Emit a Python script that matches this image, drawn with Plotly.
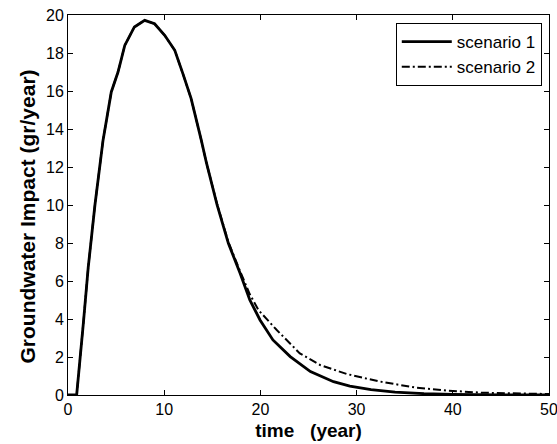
import plotly.graph_objects as go

# Scenario 1 (solid)
t1 = [0, 0.9, 1.6, 2.1, 2.8, 3.64, 4.5, 5.2, 5.9, 6.9, 7.97, 9.0, 10.05, 11.1, 11.95,
      12.8, 13.86, 14.4, 15.5, 16.67, 17.9, 18.9, 19.96, 21.3, 23.1, 25.2, 27.6, 29.3,
      31.5, 34.0, 37.0, 40.0, 45.0, 50.0]
g1 = [0, 0, 3.8, 6.7, 10.0, 13.4, 15.95, 17.0, 18.4, 19.37, 19.72, 19.54, 18.93, 18.14, 16.9,
      15.6, 13.4, 12.2, 10.0, 7.98, 6.4, 5.0, 3.95, 2.9, 2.02, 1.23, 0.7, 0.47,
      0.28, 0.15, 0.07, 0.03, 0.01, 0.0]

# Scenario 2 (dash-dot)
t2 = [0, 0.9, 1.6, 2.1, 2.8, 3.64, 4.5, 5.2, 5.9, 6.9, 7.97, 9.0, 10.05, 11.1, 11.95,
      12.8, 13.86, 14.4, 15.5, 16.67, 17.9, 18.9, 19.8, 21.7, 24.1, 26.2, 29.0, 32.3,
      36.0, 39.5, 43.0, 48.0, 50.0]
g2 = [0, 0, 3.8, 6.7, 10.0, 13.4, 15.95, 17.0, 18.4, 19.37, 19.72, 19.54, 18.93, 18.14, 16.9,
      15.6, 13.4, 12.2, 10.05, 8.05, 6.5, 5.3, 4.47, 3.42, 2.19, 1.58, 1.1, 0.72,
      0.4, 0.23, 0.12, 0.06, 0.05]

x_ticks = [0, 10, 20, 30, 40, 50]
y_ticks = [0, 2, 4, 6, 8, 10, 12, 14, 16, 18, 20]

FONT = "Liberation Sans, Arial, sans-serif"

fig = go.Figure()
fig.add_trace(go.Scatter(x=t2, y=g2, mode="lines", name="scenario 2",
                         line=dict(color="black", width=2, dash="8px,3px,2px,3px")))
fig.add_trace(go.Scatter(x=t1, y=g1, mode="lines", name="scenario 1",
                         line=dict(color="black", width=2.8)))

axis_common = dict(showline=True, linecolor="black", linewidth=1, mirror="allticks",
                   ticks="inside", ticklen=5, tickcolor="black", showgrid=False,
                   zeroline=False, ticklabeloverflow="allow", automargin=False,
                   tickfont=dict(family=FONT, size=16, color="black"))

fig.update_xaxes(range=[0, 50], tickvals=x_ticks, ticktext=[str(v) for v in x_ticks],
                 title=dict(text="time   (year)", standoff=6,
                            font=dict(family=FONT, size=19, color="black", weight="bold")),
                 **axis_common)
fig.update_yaxes(range=[0, 20], tickvals=y_ticks, ticktext=[str(v) for v in y_ticks],
                 **axis_common)

# y-axis title placed as a rotated paper-anchored label
fig.add_annotation(text="Groundwater Impact (gr/year)", xref="paper", yref="paper",
                   x=-0.085, y=0.47, xanchor="center", yanchor="middle",
                   textangle=-90, showarrow=False,
                   font=dict(family=FONT, size=21, color="black", weight="bold"))

fig.update_layout(
    width=557, height=444,
    margin=dict(l=68, r=8, t=15, b=49),
    plot_bgcolor="white", paper_bgcolor="white",
    font=dict(family=FONT, color="black"),
    legend=dict(x=0.985, y=0.979, xanchor="right", yanchor="top",
                bordercolor="black", borderwidth=1, bgcolor="white",
                traceorder="reversed", itemwidth=50, tracegroupgap=0,
                font=dict(family=FONT, size=17, color="black")),
)

# remove the browser's default 8px body margin so the figure sits at the page origin
fig.write_html("out.html", config={"displayModeBar": False},
               post_script="document.body.style.margin='0';document.body.style.overflow='hidden';")
